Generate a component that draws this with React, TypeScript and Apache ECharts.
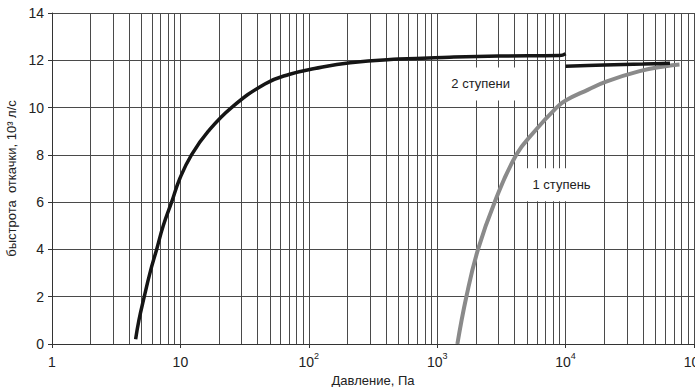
import React, { useEffect, useRef } from "react";
import * as echarts from "echarts";

// Pressure (Pa) and pumping speed (10^3 l/s)
const pressureTwoStage = [4.48, 4.75, 5.23, 5.79, 6.53, 7.35, 8.54, 9.9, 12.2, 16.5, 25, 45.5, 70, 111, 210, 500, 1250, 3000, 9000, 10000];
const speedTwoStage = [0.2, 1.0, 2.0, 3.0, 4.0, 5.0, 6.0, 7.0, 8.0, 9.0, 10.0, 11.0, 11.4, 11.65, 11.9, 12.05, 12.13, 12.18, 12.2, 12.28];

const pressureTwoStageTail = [10000, 20000, 40000, 65000];
const speedTwoStageTail = [11.75, 11.8, 11.84, 11.87];

const pressureOneStage = [1436, 1687, 2079, 2802, 4130, 5740, 8500, 10000, 15000, 20700, 37700, 60000, 77100];
const speedOneStage = [0, 2.0, 4.0, 6.0, 8.0, 9.0, 10.0, 10.3, 10.76, 11.1, 11.54, 11.75, 11.82];

const minorGridPressures = [
  2, 3, 4, 5, 6, 7, 8, 9,
  20, 30, 40, 50, 60, 70, 80, 90,
  200, 300, 400, 500, 600, 700, 800, 900,
  2000, 3000, 4000, 5000, 6000, 7000, 8000, 9000,
  20000, 30000, 40000, 50000, 60000, 70000, 80000, 90000,
];

const yTicks = [0, 2, 4, 6, 8, 10, 12, 14];

const labelTwoStage = { text: "2 ступени", pressure: 2180, speed: 11.0 };
const labelOneStage = { text: "1 ступень", pressure: 9300, speed: 6.74 };

const FONT = "'Liberation Sans', Arial, sans-serif";

export default function App() {
  const ref = useRef<HTMLDivElement>(null);

  useEffect(() => {
    if (!ref.current) return;
    const chart = echarts.init(ref.current, null, { renderer: "svg" });
    const zip = (xs: number[], ys: number[]) => xs.map((x, i) => [x, ys[i]]);
    const gridColor = "#4a4a4a";

    const labelStyle = {
      show: true,
      position: "inside",
      fontFamily: FONT,
      fontSize: 13,
      color: "#222",
      backgroundColor: "#fff",
      padding: [10, 8],
    };

    chart.setOption({
      animation: false,
      backgroundColor: "#fff",
      grid: { left: 52, right: 1, top: 13, bottom: 43, containLabel: false, outerBoundsMode: "none" },
      xAxis: {
        type: "log",
        logBase: 10,
        min: 1,
        max: 100000,
        name: "Давление, Па",
        nameLocation: "middle",
        nameGap: 26,
        nameTextStyle: { fontFamily: FONT, fontSize: 13, color: "#222" },
        axisLine: { show: true, onZero: false, lineStyle: { color: "#333", width: 1 } },
        axisTick: { show: true, length: 4, lineStyle: { color: "#333" } },
        splitLine: { show: true, lineStyle: { color: gridColor, width: 1 } },
        axisLabel: {
          margin: 7,
          fontFamily: FONT,
          fontSize: 14,
          color: "#222",
          hideOverlap: false,
          formatter: (v: number) => {
            const e = Math.round(Math.log10(v));
            if (e === 0) return "{n|1}";
            if (e === 1) return "{n|10}";
            return "{n|10}{s|" + e + "}";
          },
          rich: {
            n: { fontFamily: FONT, fontSize: 14, color: "#222", lineHeight: 18, verticalAlign: "bottom" },
            s: { fontFamily: FONT, fontSize: 9, color: "#222", lineHeight: 18, verticalAlign: "top", padding: [0, 0, 8, 0] },
          },
        },
      },
      yAxis: {
        type: "value",
        min: 0,
        max: 14,
        interval: 2,
        name: "быстрота  откачки, 10³ л/с",
        nameLocation: "middle",
        nameGap: 28,
        nameTextStyle: { fontFamily: FONT, fontSize: 13, color: "#222" },
        axisLine: { show: true, lineStyle: { color: "#333", width: 1 } },
        axisTick: { show: true, length: 4, lineStyle: { color: "#333" } },
        splitLine: { show: true, lineStyle: { color: gridColor, width: 1 } },
        axisLabel: {
          margin: 8,
          fontFamily: FONT,
          fontSize: 14,
          color: "#222",
          formatter: (v: number) => (yTicks.includes(v) ? String(v) : ""),
        },
      },
      series: [
        {
          type: "line",
          name: "1 ступень",
          data: zip(pressureOneStage, speedOneStage),
          smooth: 0.45,
          showSymbol: false,
          lineStyle: { color: "#8a8a8a", width: 4 },
          z: 3,
          markLine: {
            silent: true,
            symbol: ["none", "none"],
            z: 1,
            label: { show: false },
            lineStyle: { color: gridColor, width: 1, type: "solid" },
            data: minorGridPressures.map((p) => ({ xAxis: p })),
          },
          markPoint: {
            silent: true,
            z: 2,
            symbol: "rect",
            symbolSize: 1,
            itemStyle: { color: "rgba(0,0,0,0)" },
            label: labelStyle,
            data: [
              { coord: [labelTwoStage.pressure, labelTwoStage.speed], value: labelTwoStage.text, label: { formatter: labelTwoStage.text } },
              { coord: [labelOneStage.pressure, labelOneStage.speed], value: labelOneStage.text, label: { formatter: labelOneStage.text } },
            ],
          },
        },
        {
          type: "line",
          name: "2 ступени",
          data: zip(pressureTwoStage, speedTwoStage),
          smooth: 0.45,
          showSymbol: false,
          lineStyle: { color: "#151515", width: 3.5 },
          z: 4,
        },
        {
          type: "line",
          name: "2 ступени (продолжение)",
          data: zip(pressureTwoStageTail, speedTwoStageTail),
          smooth: 0.3,
          showSymbol: false,
          lineStyle: { color: "#151515", width: 3.5 },
          z: 4,
        },
      ],
    });
    return () => chart.dispose();
  }, []);

  return (
    <div
      ref={ref}
      style={{ position: "fixed", left: 0, top: 0, width: 695, height: 387, background: "#fff" }}
    />
  );
}
